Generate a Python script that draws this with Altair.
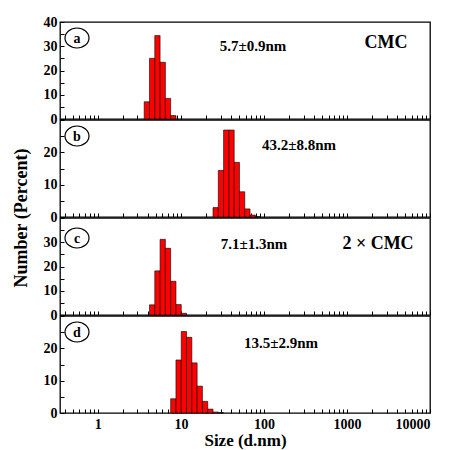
import altair as alt
import pandas as pd

# Size classes (bin edges, nm)
size_edges = [3.615, 4.187, 4.849, 5.615, 6.503, 7.531, 8.721, 10.10, 11.70, 13.54,
              15.69, 18.17, 21.04, 24.36, 28.21, 32.67, 37.84, 43.82, 50.75, 58.77,
              68.06, 78.82, 91.28]

# Number (%) per size class for each panel
number_a = [7.1, 25.0, 34.4, 23.4, 8.5, 1.4, 0, 0, 0, 0, 0, 0, 0, 0, 0, 0, 0, 0, 0, 0, 0, 0]
number_b = [0, 0, 0, 0, 0, 0, 0, 0, 0, 0, 0, 0, 0, 2.9, 14.4, 26.9, 26.9, 16.9, 7.8, 2.5, 0.6, 0.1]
number_c = [0, 4.2, 18.2, 31.2, 27.5, 13.9, 4.3, 0.7, 0, 0, 0, 0, 0, 0, 0, 0, 0, 0, 0, 0, 0, 0]
number_d = [0, 0, 0, 0, 0, 4.4, 16.4, 25.2, 23.4, 15.5, 8.3, 3.6, 1.2, 0.3, 0.1, 0, 0, 0, 0, 0, 0, 0]

panel_letters = ["a", "b", "c", "d"]
size_texts = ["5.7\u00b10.9nm", "43.2\u00b18.8nm", "7.1\u00b11.3nm", "13.5\u00b12.9nm"]
conc_texts = ["CMC", "", "2 \u00d7 CMC", ""]
y_max = [40, 30, 40, 30]
y_ticks = [[0, 5, 10, 15, 20, 25, 30, 35, 40], [0, 5, 10, 15, 20, 25, 30],
           [0, 5, 10, 15, 20, 25, 30, 35, 40], [0, 5, 10, 15, 20, 25, 30]]
y_labels = [[0, 10, 20, 30, 40], [0, 10, 20], [0, 10, 20, 30], [0, 10, 20]]
x_ticks = [0.4, 0.5, 0.6, 0.7, 0.8, 0.9, 1, 2, 3, 4, 5, 6, 7, 8, 9, 10, 20, 30, 40, 50, 60,
           70, 80, 90, 100, 200, 300, 400, 500, 600, 700, 800, 900, 1000, 2000, 3000, 4000,
           5000, 6000, 7000, 8000, 9000, 10000]
x_labels = [1, 10, 100, 1000, 10000]

series = [number_a, number_b, number_c, number_d]

FONT = "Liberation Serif"
W, H = 370, 97
ELLIPSE = "M-1.2,0 A1.2,1 0 1,1 1.2,0 A1.2,1 0 1,1 -1.2,0 Z"

letter_pos = [(17, 16), (17, 16), (17, 20), (17, 16)]
size_pos = [(193, 24), (239, 25), (194, 26), (221, 27)]
conc_pos = [(326, 21), None, (318, 26), None]


def make_panel(i):
    df = pd.DataFrame({"lo": size_edges[:-1], "hi": size_edges[1:], "pct": series[i]})
    df = df[df["pct"] > 0]
    last = i == 3
    xaxis = alt.Axis(
        values=x_ticks,
        labels=last,
        labelExpr="indexof(%s, datum.value) >= 0 ? '' + datum.value : ''" % str(x_labels),
        title="Size (d.nm)" if last else None,
        labelPadding=8,
        titlePadding=1,
        titleFontSize=17,
    )
    ylab = str(y_labels[i])
    yaxis_kwargs = dict(
        values=y_ticks[i],
        labelExpr="indexof(%s, datum.value) >= 0 ? '' + datum.value : ''" % ylab,
        labelPadding=7,
    )
    if i == 1:
        yaxis = alt.Axis(title="Number (Percent)", titleX=-39, titleY=H + 0.5,
                         titleAngle=270, titleAlign="center", titleBaseline="middle",
                         **yaxis_kwargs)
    else:
        yaxis = alt.Axis(title=None, **yaxis_kwargs)

    bars = alt.Chart(df).mark_rect(fill="#FF0000", stroke="#000000", strokeWidth=0.6).encode(
        x=alt.X("lo:Q", scale=alt.Scale(type="log", domain=[0.35, 10000], nice=False), axis=xaxis),
        x2="hi:Q",
        y=alt.Y("pct:Q", scale=alt.Scale(domain=[0, y_max[i]], nice=False), axis=yaxis),
        y2=alt.datum(0),
    )
    ldf = pd.DataFrame({"t": [panel_letters[i]]})
    lx, ly = letter_pos[i]
    circ = alt.Chart(ldf).mark_point(shape=ELLIPSE, size=400, filled=False, stroke="black",
                                     strokeWidth=1.2, opacity=1).encode(
        x=alt.value(lx), y=alt.value(ly))
    letter = alt.Chart(ldf).mark_text(font=FONT, fontWeight="bold", fontSize=14,
                                      baseline="middle", align="center", color="black").encode(
        x=alt.value(lx), y=alt.value(ly + 1), text="t:N")
    sdf = pd.DataFrame({"t": [size_texts[i]]})
    sx, sy = size_pos[i]
    stext = alt.Chart(sdf).mark_text(font=FONT, fontWeight="bold", fontSize=15,
                                     baseline="middle", align="center", color="black").encode(
        x=alt.value(sx), y=alt.value(sy), text="t:N")
    layers = [bars, circ, letter, stext]
    if conc_texts[i]:
        cdf = pd.DataFrame({"t": [conc_texts[i]]})
        cx, cy = conc_pos[i]
        ctext = alt.Chart(cdf).mark_text(font=FONT, fontWeight="bold", fontSize=18,
                                         baseline="middle", align="center", color="black").encode(
            x=alt.value(cx), y=alt.value(cy), text="t:N")
        layers.append(ctext)
    return alt.layer(*layers).properties(width=W, height=H)


chart = alt.vconcat(*[make_panel(i) for i in range(4)], spacing=1, bounds="flush").properties(
    padding={"left": 11, "top": 14, "right": 5, "bottom": 5},
    background="white",
).configure_view(
    stroke="black", strokeWidth=1.3
).configure_axis(
    domain=False, grid=False, tickSize={"expr": "-4"}, tickColor="black", tickWidth=1,
    labelFont=FONT, labelFontWeight="bold", labelFontSize=14, labelColor="black",
    titleFont=FONT, titleFontWeight="bold", titleFontSize=18, titleColor="black",
)

chart.save("out.html", embed_options={"renderer": "svg", "actions": False})
